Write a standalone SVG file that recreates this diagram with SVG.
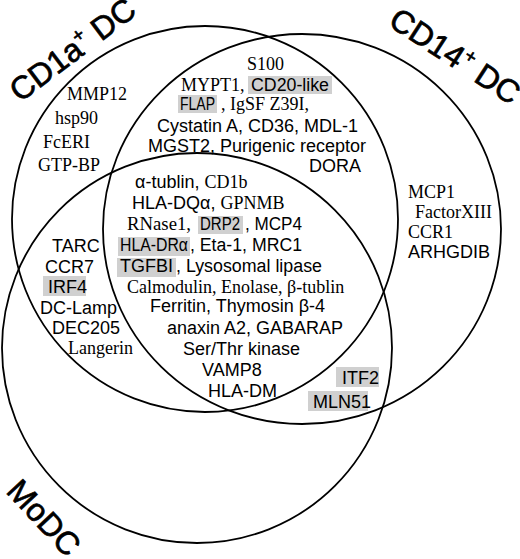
<svg xmlns="http://www.w3.org/2000/svg" width="520" height="559" viewBox="0 0 520 559">
<style>
.c{fill:none;stroke:#000;stroke-width:1.8}
.s{font-family:"Liberation Sans",Arial,sans-serif;font-size:18px;fill:#000}
.r{font-family:"Liberation Serif","Times New Roman",serif;font-size:18px;fill:#000}
.t{font-family:"Liberation Sans",Arial,sans-serif;font-size:32px;fill:#000;stroke:#000;stroke-width:0.7}
.h{fill:#d0d0d0}
</style>
<rect width="520" height="559" fill="#fff"/>
<g id="connectors">
<circle id="cd1a-circle" class="c" cx="205" cy="219" r="193"/>
<ellipse id="cd14-circle" class="c" cx="302" cy="229" rx="199" ry="195"/>
<circle id="modc-circle" class="c" cx="197" cy="348" r="195"/>
</g>
<g id="titles">
<text class="t" transform="translate(20,103) rotate(-37)">CD1a<tspan font-size="19" dy="-13">+</tspan><tspan dy="13"> DC</tspan></text>
<text class="t" transform="translate(387,25) rotate(33)">CD14<tspan font-size="19" dy="-13">+</tspan><tspan dy="13"> DC</tspan></text>
<text class="t" transform="translate(5,492) rotate(47)">MoDC</text>
</g>
<g id="cd1a-only">
<text class="r" x="67" y="100">MMP12</text>
<text class="r" x="55" y="124">hsp90</text>
<text class="r" x="43" y="148">FcERI</text>
<text class="r" x="38" y="171">GTP-BP</text>
</g>
<g id="cd1a-cd14">
<rect class="h" x="248" y="76" width="84" height="18"/>
<rect class="h" x="178" y="95" width="39" height="18"/>
<text class="r" x="247" y="70">S100</text>
<text class="r" x="181" y="91">MYPT1,</text>
<text class="s" x="251" y="91" textLength="78" lengthAdjust="spacingAndGlyphs">CD20-like</text>
<text class="s" x="180" y="110" textLength="35" lengthAdjust="spacingAndGlyphs">FLAP</text>
<text class="r" x="221" y="110">, IgSF Z39I,</text>
<text class="s" x="157" y="132">Cystatin A, CD36, MDL-1</text>
<text class="s" x="148" y="152">MGST2,  Purigenic receptor</text>
<text class="s" x="309" y="172">DORA</text>
</g>
<g id="all-three">
<rect class="h" x="198" y="216" width="45" height="18"/>
<rect class="h" x="118" y="237" width="72" height="19"/>
<rect class="h" x="117" y="258" width="59" height="19"/>
<text class="s" x="135" y="188">α-tublin, <tspan class="r">CD1b</tspan></text>
<text class="s" x="132" y="209">HLA-DQα, <tspan class="r">GPNMB</tspan></text>
<text class="r" x="127" y="230" textLength="64" lengthAdjust="spacingAndGlyphs">RNase1,</text>
<text class="s" x="200" y="230" textLength="40" lengthAdjust="spacingAndGlyphs">DRP2</text>
<text class="s" x="245" y="230" textLength="57" lengthAdjust="spacingAndGlyphs">, MCP4</text>
<text class="s" x="120" y="251" textLength="68" lengthAdjust="spacingAndGlyphs">HLA-DRα</text>
<text class="s" x="190" y="251" textLength="112" lengthAdjust="spacingAndGlyphs">, Eta-1, MRC1</text>
<text class="s" x="120" y="272" textLength="53" lengthAdjust="spacingAndGlyphs">TGFBI</text>
<text class="s" x="176" y="272" textLength="146" lengthAdjust="spacingAndGlyphs">, Lysosomal lipase</text>
<text class="r" x="127" y="293">Calmodulin, Enolase, β-tublin</text>
<text class="s" x="150" y="312">Ferritin, Thymosin β-4</text>
<text class="s" x="167" y="334">anaxin A2, GABARAP</text>
<text class="s" x="183" y="355">Ser/Thr kinase</text>
<text class="s" x="202" y="376">VAMP8</text>
<text class="s" x="208" y="397">HLA-DM</text>
</g>
<g id="cd1a-modc">
<rect class="h" x="43" y="276" width="43" height="20"/>
<text class="s" x="52" y="252">TARC</text>
<text class="s" x="45" y="273">CCR7</text>
<text class="s" x="48" y="293">IRF4</text>
<text class="s" x="40" y="314">DC-Lamp</text>
<text class="s" x="52" y="334">DEC205</text>
<text class="r" x="68" y="354">Langerin</text>
</g>
<g id="cd14-only">
<text class="r" x="408" y="198">MCP1</text>
<text class="r" x="415" y="218">FactorXIII</text>
<text class="r" x="408" y="238">CCR1</text>
<text class="s" x="408" y="258">ARHGDIB</text>
</g>
<g id="cd14-modc">
<rect class="h" x="336" y="367" width="43" height="20"/>
<rect class="h" x="308" y="391" width="60" height="20"/>
<text class="s" x="342" y="384">ITF2</text>
<text class="s" x="313" y="408">MLN51</text>
</g>
</svg>
